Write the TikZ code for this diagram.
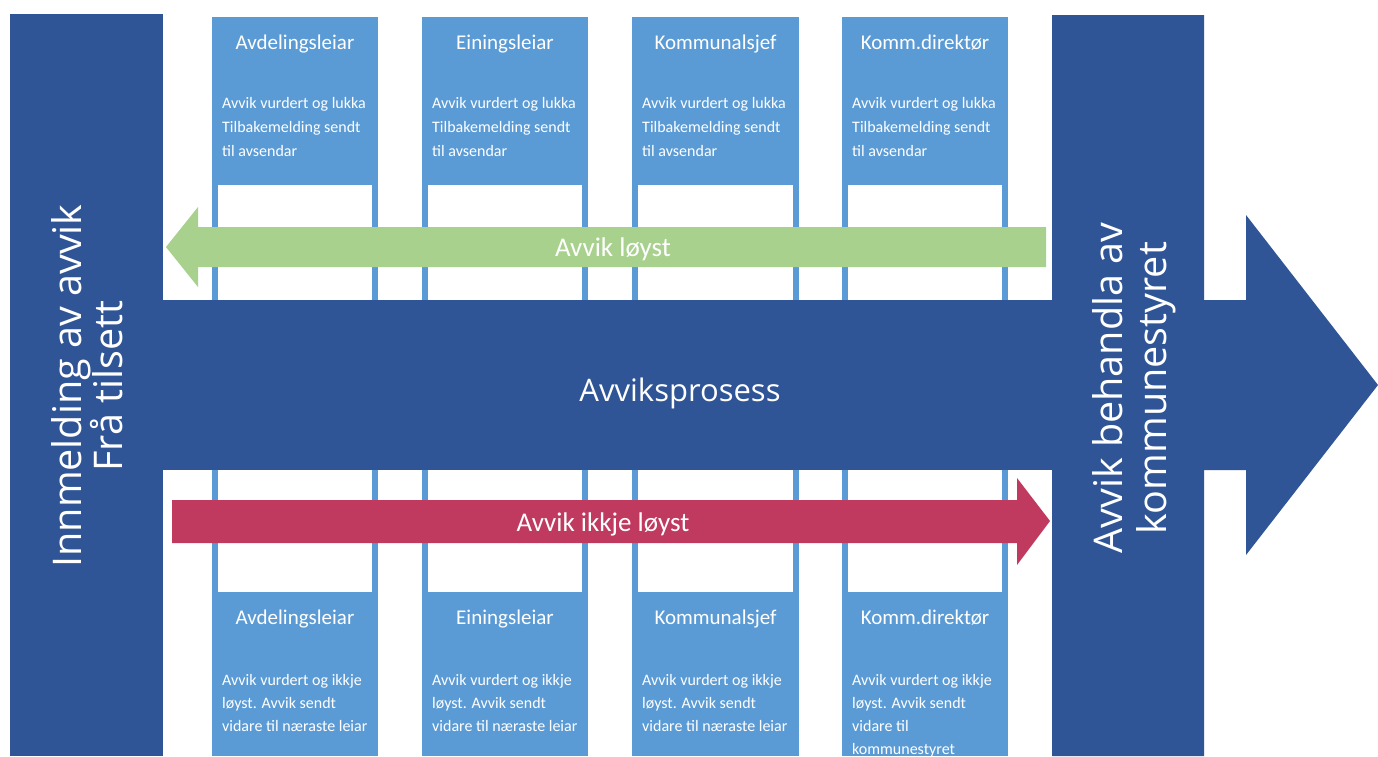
\documentclass[tikz,border=0pt]{standalone}
\usepackage{fontspec}
\setmainfont{Carlito}
\newfontfamily\osans{Open Sans}
\definecolor{dkblue}{HTML}{2F5597}
\definecolor{ltblue}{HTML}{5B9BD5}
\definecolor{lgreen}{HTML}{A9D18E}
\definecolor{crimson}{HTML}{C0395F}
\begin{document}
\begin{tikzpicture}[x=1pt,y=-1pt,
  hdr/.style={text=white,font=\fontsize{21}{24}\selectfont,anchor=base,inner sep=0pt},
  body/.style={text=white,font=\fontsize{16}{19}\selectfont,anchor=base west,inner sep=0pt},
  lbl/.style={text=white,font=\fontsize{27}{30}\selectfont,anchor=base,inner sep=0pt},
  vert/.style={text=white,font=\osans\fontsize{39.5}{44}\selectfont,anchor=base,rotate=90,inner sep=0pt},
  colbox/.style={fill=ltblue},
  winbox/.style={fill=white},
  mainshape/.style={fill=dkblue}
]
\useasboundingbox (0,0) rectangle (1378,756);
\fill[white] (0,0) rectangle (1378,756);

% main process shape
\fill[mainshape] (10,14) rectangle (163,756);
\fill[mainshape] (162,300) rectangle (1053,470);
\fill[mainshape] (1052,15) -- (1204,15) -- (1204,300) -- (1246,300) -- (1246,215) -- (1378,385) -- (1246,555) -- (1246,470) -- (1204,470) -- (1204,756) -- (1052,756) -- cycle;

% columns
\foreach \l/\r/\h [count=\i] in {212/378/Avdelingsleiar,422/588/Einingsleiar,632/799/Kommunalsjef,842/1008/Komm.direktør}{
  \fill[colbox] (\l,17) rectangle (\r,300);
  \fill[winbox] (\l+6,185) rectangle (\r-6,300);
  \fill[colbox] (\l,470) rectangle (\r,756);
  \fill[winbox] (\l+6,470) rectangle (\r-6,592);
  \node[hdr] (th\i) at ({(\l+\r)/2},49) {\h};
  \node[hdr] (bh\i) at ({(\l+\r)/2},624) {\h};
  \node[body] (tba\i) at (\l+10,108) {Avvik vurdert og lukka};
  \node[body] (tbb\i) at (\l+10,132) {Tilbakemelding sendt};
  \node[body] (tbc\i) at (\l+10,156) {til avsendar};
  \node[body] (bba\i) at (\l+10,685) {Avvik vurdert og ikkje};
}
\foreach \l [count=\i] in {212,422,632}{
  \node[body] (bbb\i) at (\l+10,708) {løyst. Avvik sendt};
  \node[body] (bbc\i) at (\l+10,731) {vidare til næraste leiar};
}
\node[body] (bbb4) at (852,708) {løyst. Avvik sendt};
\node[body] (bbc4) at (852,731) {vidare til};
\node[body] (bbd4) at (852,754) {kommunestyret};

% arrows
\fill[lgreen] (1046,227) -- (198,227) -- (198,207) -- (166,247) -- (198,287) -- (198,267) -- (1046,267) -- cycle;
\node[lbl] (solved) at (613,256) {Avvik løyst};
\fill[crimson] (172,500) -- (1017,500) -- (1017,478) -- (1050,521) -- (1017,565) -- (1017,543) -- (172,543) -- cycle;
\node[lbl] (unsolved) at (603,531) {Avvik ikkje løyst};

% main labels
\node[text=white,font=\osans\fontsize{31}{34}\selectfont,anchor=base,inner sep=0pt] (proc) at (680,401) {Avviksprosess};
\node[vert] (in1) at (81,386) {Innmelding av avvik};
\node[vert] (in2) at (122,386) {Frå tilsett};
\node[vert] (out1) at (1122,388) {Avvik behandla av};
\node[vert] (out2) at (1166,388) {kommunestyret};
\end{tikzpicture}
\end{document}
